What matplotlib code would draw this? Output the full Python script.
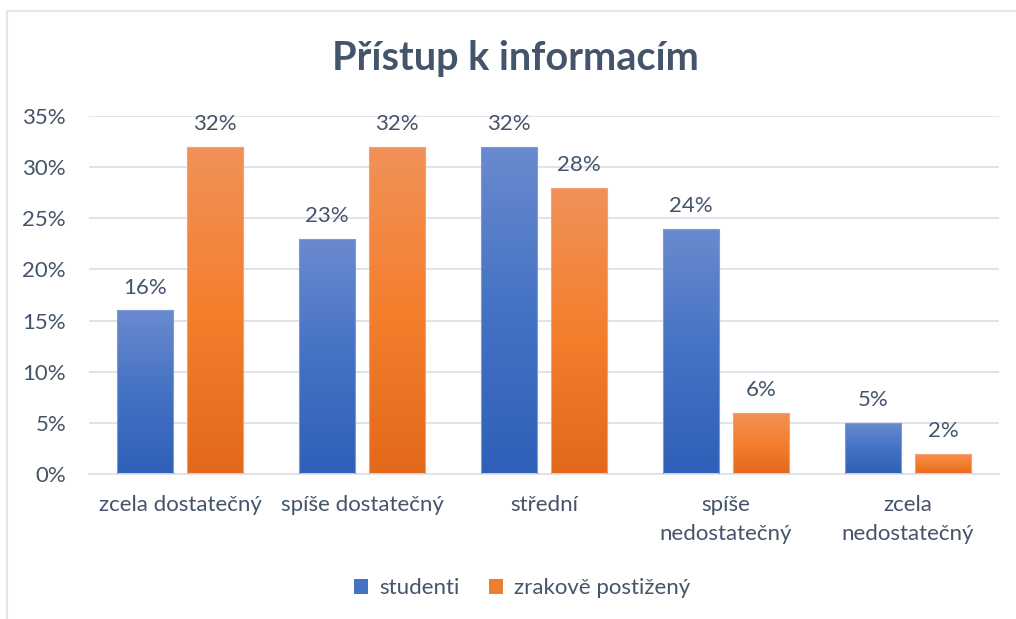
import numpy as np
import matplotlib
matplotlib.use("Agg")
import matplotlib.pyplot as plt
from matplotlib.colors import LinearSegmentedColormap
from matplotlib.lines import Line2D
from matplotlib.patches import Patch

categories = ["zcela dostatečný", "spíše dostatečný", "střední", "spíše\nnedostatečný", "zcela\nnedostatečný"]
studenti = [0.16, 0.23, 0.32, 0.24, 0.05]
zrakove = [0.32, 0.32, 0.28, 0.06, 0.02]
series_names = ["studenti", "zrakově postižený"]
title = "Přístup k informacím"

plt.rcParams['font.family'] = ['Lato', 'DejaVu Sans']
TXT = "#44546A"
FS = 16

fig = plt.figure(figsize=(10.16, 6.19), dpi=100)
ax = fig.add_axes([89/1016, 145/619, 910/1016, 358/619])

x = np.arange(len(categories))
w = 0.308
off = 0.192

blue_cmap = LinearSegmentedColormap.from_list("b", ["#2F5FB8", "#4472C4", "#6A8ACF"])
orange_cmap = LinearSegmentedColormap.from_list("o", ["#E2691A", "#F47F2D", "#F19159"])

grad = np.linspace(0, 1, 256).reshape(-1, 1)

def draw(vals, pos, cmap, edge):
    bars = ax.bar(pos, vals, width=w, color="none", edgecolor=edge, linewidth=0.8, zorder=3)
    for b in bars:
        x0, y0 = b.get_x(), b.get_y()
        im = ax.imshow(grad, cmap=cmap, origin="lower", aspect="auto",
                       extent=[x0, x0 + b.get_width(), y0, y0 + b.get_height()],
                       zorder=2.5, interpolation="bilinear")
        im.set_clip_path(b)
    for b, v in zip(bars, vals):
        ax.annotate(f"{round(v*100)}%", (b.get_x() + b.get_width()/2, v),
                    xytext=(0, 9), textcoords="offset points", ha="center", va="bottom",
                    fontsize=FS, color=TXT)
    return bars

draw(studenti, x - off, blue_cmap, "#7D9AD6")
draw(zrakove, x + off, orange_cmap, "#F4A070")

ax.set_xlim(-0.5, len(categories) - 0.5)
ax.set_ylim(0, 0.35)
ax.set_yticks(np.arange(0, 0.351, 0.05))
ax.set_yticklabels([f"{int(round(t*100))}%" for t in np.arange(0, 0.351, 0.05)])
ax.set_xticks(x)
ax.set_xticklabels(categories, linespacing=1.6)
ax.tick_params(axis="both", length=0, labelsize=FS, colors=TXT)
ax.tick_params(axis="y", pad=16.5)
ax.tick_params(axis="x", pad=15)
ax.yaxis.grid(True, color="#DDE1E8", linewidth=1.3, zorder=0)
ax.set_axisbelow(True)
for s in ["top", "right", "left"]:
    ax.spines[s].set_visible(False)
ax.spines["bottom"].set_color("#DDE1E8")
ax.spines["bottom"].set_linewidth(1.3)

fig.text(0.507, 0.906, title, ha="center", va="center", fontsize=28.5, fontweight="bold", color=TXT)

handles = [Patch(facecolor="#4472C4", edgecolor="none"), Patch(facecolor="#ED7D31", edgecolor="none")]
fig.legend(handles, series_names, loc="center", bbox_to_anchor=(0.514, 0.05), ncol=2, frameon=False,
           fontsize=FS, labelcolor=TXT, handlelength=0.65, handleheight=0.65, handletextpad=0.5,
           columnspacing=1.3)

fig.add_artist(Line2D([7/1016, 7/1016], [0, 1 - 11/619], transform=fig.transFigure, color="#E3E6EC", linewidth=1.5))
fig.add_artist(Line2D([7/1016, 1], [1 - 11/619, 1 - 11/619], transform=fig.transFigure, color="#E3E6EC", linewidth=1.5))

fig.savefig("out.png", dpi=100, facecolor="white")
